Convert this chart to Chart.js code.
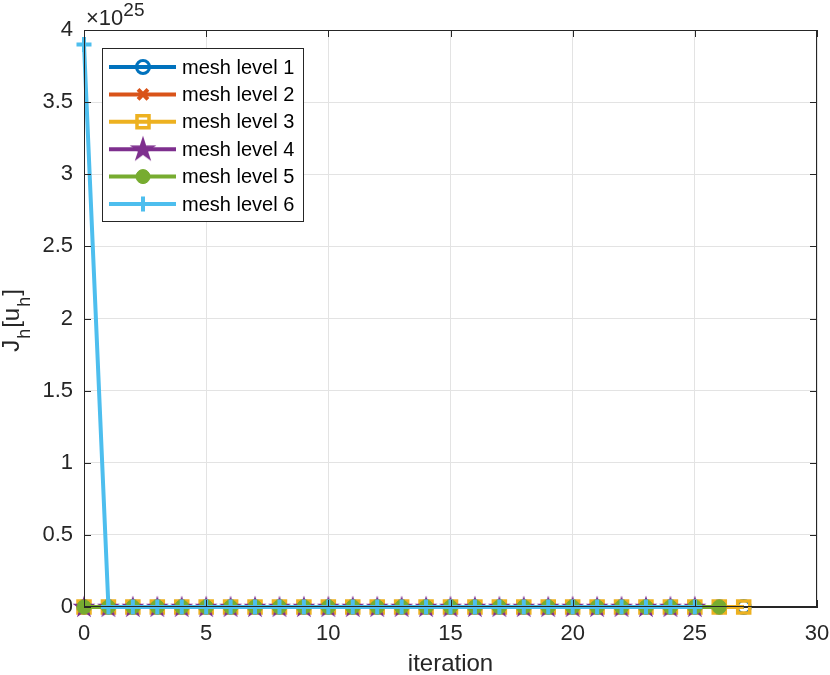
<!DOCTYPE html>
<html>
<head>
<meta charset="utf-8">
<script src="https://cdn.jsdelivr.net/npm/chart.js@4"></script>
<style>
    html, body { margin: 0; padding: 0; background: #fff; }
</style>
</head>
<body>
<canvas id="myChart" width="830" height="675"></canvas>
<script>
(() => {
    // iteration numbers (x) and J_h[u_h] values per mesh level
    var iterations = [0, 1, 2, 3, 4, 5, 6, 7, 8, 9, 10, 11, 12, 13, 14, 15, 16, 17, 18, 19, 20, 21, 22, 23, 24, 25, 26, 27];
    var level1 = [0, 0, 0, 0, 0, 0, 0, 0, 0, 0, 0, 0, 0, 0, 0, 0, 0, 0, 0, 0, 0, 0, 0, 0, 0, 0, 0, 0];
    var level2 = [0, 0, 0, 0, 0, 0, 0, 0, 0, 0, 0, 0, 0, 0, 0, 0, 0, 0, 0, 0, 0, 0, 0, 0, 0, 0, 0];
    var level3 = [0, 0, 0, 0, 0, 0, 0, 0, 0, 0, 0, 0, 0, 0, 0, 0, 0, 0, 0, 0, 0, 0, 0, 0, 0, 0, 0, 0];
    var level4 = [0, 0, 0, 0, 0, 0, 0, 0, 0, 0, 0, 0, 0, 0, 0, 0, 0, 0, 0, 0, 0, 0, 0, 0, 0, 0];
    var level5 = [0, 0, 0, 0, 0, 0, 0, 0, 0, 0, 0, 0, 0, 0, 0, 0, 0, 0, 0, 0, 0, 0, 0, 0, 0, 0, 0];
    var level6 = [3.9e25, 0, 0, 0, 0, 0, 0, 0, 0, 0, 0, 0, 0, 0, 0, 0, 0, 0, 0, 0, 0, 0, 0, 0, 0, 0];
    var seriesNames = ["mesh level 1", "mesh level 2", "mesh level 3", "mesh level 4", "mesh level 5", "mesh level 6"];
    var xTicks = [0, 5, 10, 15, 20, 25, 30];
    var yTicks = [0, 0.5, 1, 1.5, 2, 2.5, 3, 3.5, 4];
    var yExponent = 25;

    var colors = ["#0072BD", "#D95319", "#EDB120", "#7E2F8E", "#77AC30", "#4DBEEE"];
    var textColor = "#262626";
    var fontFamily = "'Liberation Sans', Arial, sans-serif";

    //filled pentagram for level 4
    function makeStar(r, color) {
        var c = document.createElement("canvas");
        c.width = r * 2 + 2;
        c.height = r * 2 + 2;
        var g = c.getContext("2d");
        var cx = r + 1, cy = r + 1.5, inner = r * 0.382;
        g.beginPath();
        for (var k = 0; k < 10; k++) {
            var rad = (k % 2 === 0) ? r : inner;
            var a = -Math.PI / 2 + k * Math.PI / 5;
            var px = cx + rad * Math.cos(a), py = cy + rad * Math.sin(a);
            if (k === 0) g.moveTo(px, py); else g.lineTo(px, py);
        }
        g.closePath();
        g.fillStyle = color;
        g.fill();
        return c;
    }
    var starPlot = makeStar(12, colors[3]);
    var starLegend = makeStar(14, colors[3]);

    var styles = [
        { pointStyle: "circle", radius: 6.5, fill: "rgba(0,0,0,0)", bw: 3 },
        { pointStyle: "crossRot", radius: 7, fill: colors[1], bw: 4 },
        { pointStyle: "rect", radius: 8.5, fill: "rgba(0,0,0,0)", bw: 3.5 },
        { pointStyle: starPlot, radius: 12, fill: colors[3], bw: 1, legend: starLegend },
        { pointStyle: "circle", radius: 7, fill: colors[4], bw: 1 },
        { pointStyle: "cross", radius: 7.5, fill: colors[5], bw: 4 }
    ];

    var allData = [level1, level2, level3, level4, level5, level6];
    var datasets = [];
    for (var i = 0; i < allData.length; i++) {
        var pts = [];
        for (var j = 0; j < allData[i].length; j++) {
            pts.push({ x: iterations[j], y: allData[i][j] });
        }
        datasets.push({
            label: seriesNames[i],
            data: pts,
            borderColor: colors[i],
            backgroundColor: colors[i],
            borderWidth: 4,
            pointStyle: styles[i].pointStyle,
            pointRadius: styles[i].radius,
            pointBorderWidth: styles[i].bw,
            pointBackgroundColor: styles[i].fill,
            pointBorderColor: colors[i],
            tension: 0,
            clip: false,
            order: allData.length - i
        });
    }

    //axes box, inward ticks, exponent, y title and legend
    var extras = {
        id: "extras",
        afterDraw: function (chart) {
            var ctx = chart.ctx, a = chart.chartArea;
            var xs = chart.scales.x, ys = chart.scales.y;
            ctx.save();
            ctx.strokeStyle = textColor;
            ctx.lineWidth = 1;
            ctx.strokeRect(a.left + 0.5, a.top + 0.5, a.right - a.left - 1, a.bottom - a.top - 1);
            ctx.beginPath();
            xTicks.forEach(function (t) {
                var px = Math.round(xs.getPixelForValue(t)) + 0.5;
                ctx.moveTo(px, a.bottom); ctx.lineTo(px, a.bottom - 7);
                ctx.moveTo(px, a.top); ctx.lineTo(px, a.top + 7);
            });
            yTicks.forEach(function (t) {
                var py = Math.round(ys.getPixelForValue(t * Math.pow(10, yExponent))) + 0.5;
                ctx.moveTo(a.left, py); ctx.lineTo(a.left + 7, py);
                ctx.moveTo(a.right, py); ctx.lineTo(a.right - 7, py);
            });
            ctx.stroke();

            //exponent label
            ctx.fillStyle = textColor;
            ctx.textBaseline = "alphabetic";
            ctx.textAlign = "left";
            ctx.font = "22px " + fontFamily;
            ctx.fillText("\u00d710", 86, 25);
            var w = ctx.measureText("\u00d710").width;
            ctx.font = "19px " + fontFamily;
            ctx.fillText(String(yExponent), 86 + w, 16);

            //y title J_h[u_h]
            ctx.translate(19, 320);
            ctx.rotate(-Math.PI / 2);
            var parts = [["J", 0], ["h", 1], ["[u", 0], ["h", 1], ["]", 0]];
            var total = 0;
            parts.forEach(function (p) {
                ctx.font = (p[1] ? "18px " : "24px ") + fontFamily;
                total += ctx.measureText(p[0]).width + 1;
            });
            var cx = -total / 2;
            parts.forEach(function (p) {
                ctx.font = (p[1] ? "18px " : "24px ") + fontFamily;
                ctx.fillText(p[0], cx, p[1] ? 11 : 0);
                cx += ctx.measureText(p[0]).width + 1;
            });
            ctx.restore();

            //legend box
            ctx.save();
            var lx = 102, ly = 48, lw = 201, lh = 173;
            ctx.fillStyle = "#fff";
            ctx.fillRect(lx, ly, lw, lh);
            ctx.strokeStyle = textColor;
            ctx.lineWidth = 1;
            ctx.strokeRect(lx + 0.5, ly + 0.5, lw, lh);
            for (var k = 0; k < seriesNames.length; k++) {
                var yy = 67 + k * 27.4;
                ctx.strokeStyle = colors[k];
                ctx.lineWidth = 4;
                ctx.beginPath();
                ctx.moveTo(109, yy);
                ctx.lineTo(176, yy);
                ctx.stroke();
                ctx.fillStyle = styles[k].fill;
                ctx.strokeStyle = colors[k];
                ctx.lineWidth = styles[k].bw;
                Chart.helpers.drawPoint(ctx, {
                    pointStyle: styles[k].legend || styles[k].pointStyle,
                    radius: styles[k].legend ? 14 : styles[k].radius,
                    rotation: 0,
                    borderWidth: styles[k].bw
                }, 143, yy);
                ctx.fillStyle = "#000";
                ctx.font = "20px " + fontFamily;
                ctx.textBaseline = "middle";
                ctx.textAlign = "left";
                ctx.fillText(seriesNames[k], 182, yy + 1);
            }
            ctx.restore();
        }
    };

    var ctx1 = document.getElementById("myChart");
    var myChart = new Chart(ctx1, {
        type: "line",
        data: { datasets: datasets },
        options: {
            responsive: false,
            animation: false,
            devicePixelRatio: 1,
            layout: { padding: { top: 30, right: 13, left: 0, bottom: 0 } },
            plugins: { legend: { display: false }, tooltip: { enabled: false } },
            scales: {
                x: {
                    type: "linear",
                    min: 0,
                    max: 30,
                    afterBuildTicks: function (s) { s.ticks = xTicks.map(function (v) { return { value: v }; }); },
                    ticks: { color: textColor, font: { family: fontFamily, size: 22 }, padding: 14, maxRotation: 0 },
                    grid: { color: "#e3e3e3", drawTicks: false },
                    border: { color: textColor },
                    title: { display: true, text: "iteration", color: textColor, font: { family: fontFamily, size: 24 }, padding: { top: 0, bottom: -4 } },
                    afterFit: function (s) { s.height = 68; s.paddingLeft = 0; s.paddingRight = 0; }
                },
                y: {
                    type: "linear",
                    min: 0,
                    max: 4 * Math.pow(10, yExponent),
                    afterBuildTicks: function (s) { s.ticks = yTicks.map(function (v) { return { value: v * Math.pow(10, yExponent) }; }); },
                    ticks: {
                        color: textColor,
                        font: { family: fontFamily, size: 22 },
                        padding: 11,
                        callback: function (v) { return String(Math.round(v / Math.pow(10, yExponent - 1)) / 10); }
                    },
                    grid: { color: "#e3e3e3", drawTicks: false },
                    border: { color: textColor },
                    afterFit: function (s) { s.width = 84; s.paddingTop = 0; s.paddingBottom = 0; }
                }
            }
        },
        plugins: [extras]
    });
})();
</script>
</body>
</html>
